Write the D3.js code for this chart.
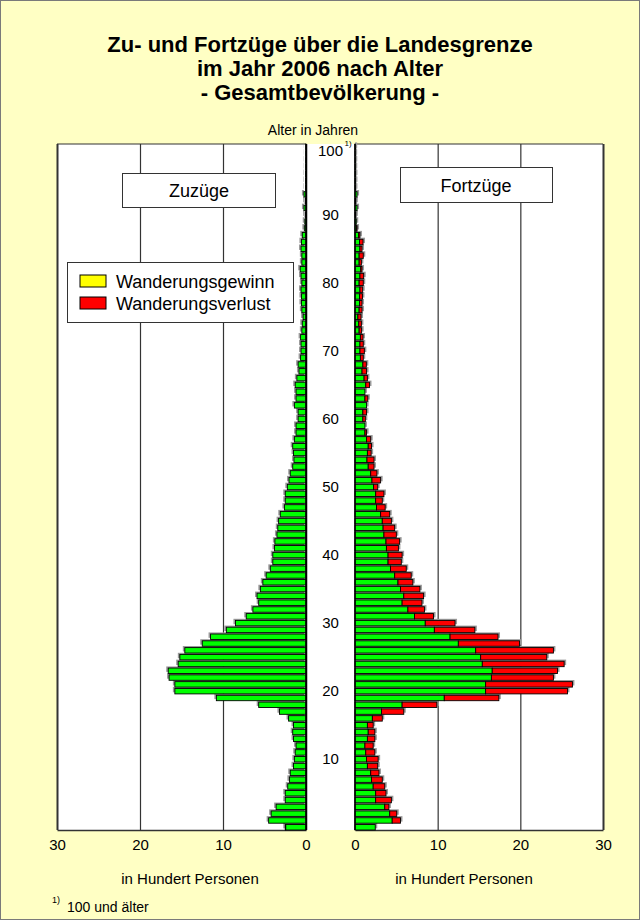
<!DOCTYPE html>
<html>
<head>
<meta charset="utf-8">
<script src="https://cdn.jsdelivr.net/npm/d3@7"></script>
<style>
body { margin: 0; background: #fff; }
</style>
</head>
<body>
<div id="chart"></div>
<script>
// Alter 0 bis 100 (100 = 100 und älter), Werte in Hundert Personen
var alter = d3.range(0, 101);
var zuzuege = [
  2.5, 4.5, 4.2, 3.6, 2.5, 2.5, 2.2, 2.0, 1.9, 1.5,
  1.4, 1.3, 1.2, 1.5, 1.6, 1.5, 2.1, 3.2, 5.7, 10.8,
  15.8, 15.8, 16.5, 16.6, 15.4, 15.2, 14.6, 12.5, 11.5, 9.6,
  8.5, 7.2, 6.4, 5.7, 5.9, 5.5, 5.2, 4.8, 4.3, 4.0,
  4.0, 3.8, 3.75, 3.5, 3.4, 3.3, 3.1, 2.6, 2.5, 2.5,
  2.25, 2.05, 1.9, 1.6, 1.45, 1.5, 1.6, 1.4, 1.2, 1.2,
  0.95, 0.95, 1.4, 1.2, 1.2, 1.3, 1.1, 0.85, 0.95, 0.65,
  0.6, 0.6, 0.65, 0.5, 0.45, 0.35, 0.5, 0.55, 0.55, 0.6,
  0.5, 0.6, 0.7, 0.5, 0.5, 0.6, 0.55, 0.45, 0.2, 0.15,
  0.1, 0.25, 0.1, 0.25, 0.05, 0.05, 0.05, 0.03, 0.03, 0.02,
  0.02
];
var fortzuege = [
  2.45, 5.5, 5.05, 4.1, 4.4, 3.75, 3.6, 3.3, 2.9, 2.75,
  2.8, 2.4, 2.2, 2.4, 2.4, 2.2, 3.3, 5.9, 9.9, 17.4,
  25.7, 26.3, 24.0, 24.5, 25.3, 23.2, 24.0, 19.9, 17.3, 14.5,
  12.1, 9.5, 8.4, 8.1, 8.3, 7.85, 7.0, 6.8, 6.2, 5.6,
  5.7, 5.25, 5.4, 5.0, 4.8, 4.4, 4.2, 3.65, 3.3, 3.5,
  2.75, 3.1, 2.65, 2.3, 2.3, 1.95, 2.0, 1.9, 1.4, 1.2,
  1.25, 1.4, 1.4, 1.55, 1.2, 1.75, 1.5, 1.4, 1.37, 1.0,
  1.13, 1.0, 0.97, 0.8, 0.77, 0.73, 0.85, 0.85, 0.9, 0.93,
  1.0, 1.05, 0.85, 0.77, 1.0, 0.85, 0.97, 0.6, 0.25, 0.15,
  0.1, 0.25, 0.1, 0.25, 0.05, 0.05, 0.05, 0.03, 0.03, 0.02,
  0.02
];
var wertTicks = [0, 10, 20, 30];
var alterTicks = [10, 20, 30, 40, 50, 60, 70, 80, 90, 100];
var legende = ["Wanderungsgewinn", "Wanderungsverlust"];
var titel = ["Zu- und Fortzüge über die Landesgrenze", "im Jahr 2006 nach Alter", "- Gesamtbevölkerung -"];

var daten = alter.map(function (a, i) {
  return { alter: a, zu: zuzuege[i], fort: fortzuege[i] };
});

var font = "Arial, 'Liberation Sans', sans-serif",
  width = 640,
  height = 920,
  oben = 144,
  unten = 830;

var svg = d3.select("#chart").append("svg")
  .attr("width", width)
  .attr("height", height)
  .style("font-family", font);

svg.append("rect")
  .attr("x", 0.5).attr("y", 0.5)
  .attr("width", width - 1).attr("height", height - 1)
  .attr("fill", "#FFFFC4")
  .attr("stroke", "#7a7a7a");

var xL = d3.scaleLinear().domain([0, 30]).range([306, 57]),
  xR = d3.scaleLinear().domain([0, 30]).range([355, 603]),
  y = d3.scaleBand().domain(alter).range([unten, oben]).paddingInner(0.2),
  bw = y.bandwidth();

// weisse Zeichenfläche inkl. Mittelspalte
svg.append("rect")
  .attr("x", xL(30)).attr("y", oben)
  .attr("width", xR(30) - xL(30)).attr("height", unten - oben)
  .attr("fill", "#fff");

// Gitterlinien + Achsen
function achse(scale) {
  var g = svg.append("g")
    .attr("transform", "translate(0," + unten + ")")
    .call(d3.axisBottom(scale).tickValues(wertTicks).tickSize(-(unten - oben)).tickSizeOuter(0).tickPadding(9));
  g.select(".domain").attr("stroke", "#333").attr("stroke-width", 1.5);
  g.selectAll(".tick line").attr("stroke", "#333").attr("stroke-width", 1.2);
  g.selectAll(".tick text").attr("font-size", 15).attr("font-family", font).attr("fill", "#000");
  g.selectAll(".tick").filter(function (d) { return d === 30; }).select("line").attr("stroke-width", 2);
  g.selectAll(".tick").filter(function (d) { return d === 0; }).select("line").attr("stroke", "#000").attr("stroke-width", 1.5);
  svg.append("line")
    .attr("x1", scale(0)).attr("x2", scale(30))
    .attr("y1", oben).attr("y2", oben)
    .attr("stroke", "#333").attr("stroke-width", 1.2);
}
achse(xL);
achse(xR);

// Balken links (Zuzüge)
var links = svg.append("g");
links.selectAll(".schatten").data(daten).enter().append("rect")
  .attr("x", function (d) { return xL(d.zu) - 2; })
  .attr("y", function (d) { return y(d.alter) - 1.6; })
  .attr("width", function (d) { return xL(0) - xL(d.zu); })
  .attr("height", bw)
  .attr("fill", "#9a9a9a");
links.selectAll(".gruen").data(daten).enter().append("rect")
  .attr("x", function (d) { return xL(Math.min(d.zu, d.fort)); })
  .attr("y", function (d) { return y(d.alter); })
  .attr("width", function (d) { return xL(0) - xL(Math.min(d.zu, d.fort)); })
  .attr("height", bw)
  .attr("fill", "#00FF00").attr("stroke", "#000").attr("stroke-width", 0.9);
links.selectAll(".gelb").data(daten.filter(function (d) { return d.zu > d.fort; })).enter().append("rect")
  .attr("x", function (d) { return xL(d.zu); })
  .attr("y", function (d) { return y(d.alter); })
  .attr("width", function (d) { return xL(d.fort) - xL(d.zu); })
  .attr("height", bw)
  .attr("fill", "#FFFF00").attr("stroke", "#000").attr("stroke-width", 0.9);

// Balken rechts (Fortzüge)
var rechts = svg.append("g");
rechts.selectAll(".schatten").data(daten).enter().append("rect")
  .attr("x", xR(0))
  .attr("y", function (d) { return y(d.alter) - 1.6; })
  .attr("width", function (d) { return xR(d.fort) - xR(0) + 2; })
  .attr("height", bw)
  .attr("fill", "#9a9a9a");
rechts.selectAll(".gruen").data(daten).enter().append("rect")
  .attr("x", xR(0))
  .attr("y", function (d) { return y(d.alter); })
  .attr("width", function (d) { return xR(Math.min(d.zu, d.fort)) - xR(0); })
  .attr("height", bw)
  .attr("fill", "#00FF00").attr("stroke", "#000").attr("stroke-width", 0.9);
rechts.selectAll(".rot").data(daten.filter(function (d) { return d.fort > d.zu; })).enter().append("rect")
  .attr("x", function (d) { return xR(d.zu); })
  .attr("y", function (d) { return y(d.alter); })
  .attr("width", function (d) { return xR(d.fort) - xR(d.zu); })
  .attr("height", bw)
  .attr("fill", "#FF0000").attr("stroke", "#000").attr("stroke-width", 0.9);

// Null-Linien
[xL(0), xR(0)].forEach(function (x) {
  svg.append("line").attr("x1", x).attr("x2", x).attr("y1", oben).attr("y2", unten)
    .attr("stroke", "#000").attr("stroke-width", 1.5);
});

// Altersbeschriftung Mitte
var ay = svg.append("g")
  .attr("transform", "translate(" + ((xL(0) + xR(0)) / 2) + ",0)")
  .call(d3.axisLeft(y).tickValues(alterTicks).tickSize(0).tickPadding(0));
ay.select(".domain").remove();
ay.selectAll("text").attr("text-anchor", "middle").attr("font-size", 15).attr("font-family", font).attr("fill", "#000");
// "100" steht im Original etwas tiefer, damit es nicht an den Rand stösst
ay.selectAll(".tick").filter(function (d) { return d === 100; }).select("text").attr("dy", "0.62em");
svg.append("text")
  .attr("x", (xL(0) + xR(0)) / 2 + 14).attr("y", y(100) + 2)
  .attr("font-size", 8).text("1)");

// Titel
svg.selectAll(".titel").data(titel).enter().append("text")
  .attr("x", 320)
  .attr("y", function (d, i) { return 52 + i * 24; })
  .attr("text-anchor", "middle")
  .attr("font-size", 22).attr("font-weight", "bold")
  .text(function (d) { return d; });

svg.append("text").attr("x", 313).attr("y", 135).attr("text-anchor", "middle")
  .attr("font-size", 14).text("Alter in Jahren");

// Kästen Zuzüge / Fortzüge
svg.append("rect").attr("x", 122.5).attr("y", 173.5).attr("width", 153).attr("height", 34)
  .attr("fill", "#fff").attr("stroke", "#333");
svg.append("text").attr("x", 199).attr("y", 197).attr("text-anchor", "middle")
  .attr("font-size", 18).text("Zuzüge");
svg.append("rect").attr("x", 400.5).attr("y", 167.5).attr("width", 152).attr("height", 35)
  .attr("fill", "#fff").attr("stroke", "#333");
svg.append("text").attr("x", 476).attr("y", 192).attr("text-anchor", "middle")
  .attr("font-size", 18).text("Fortzüge");

// Legende
svg.append("rect").attr("x", 67.5).attr("y", 262.5).attr("width", 226).attr("height", 60)
  .attr("fill", "#fff").attr("stroke", "#333");
var lg = svg.selectAll(".leg").data(legende).enter().append("g")
  .attr("transform", function (d, i) { return "translate(80," + (275 + i * 22) + ")"; });
lg.append("rect").attr("width", 26).attr("height", 12)
  .attr("fill", function (d, i) { return i === 0 ? "#FFFF00" : "#FF0000"; })
  .attr("stroke", "#000");
lg.append("text").attr("x", 36).attr("y", 12.5).attr("font-size", 18).text(function (d) { return d; });

// Achsentitel + Fussnote
[190, 464].forEach(function (x) {
  svg.append("text").attr("x", x).attr("y", 884).attr("text-anchor", "middle")
    .attr("font-size", 15).text("in Hundert Personen");
});
svg.append("text").attr("x", 52).attr("y", 903).attr("font-size", 9).text("1)");
svg.append("text").attr("x", 67).attr("y", 912).attr("font-size", 14).text("100 und älter");
</script>
</body>
</html>
